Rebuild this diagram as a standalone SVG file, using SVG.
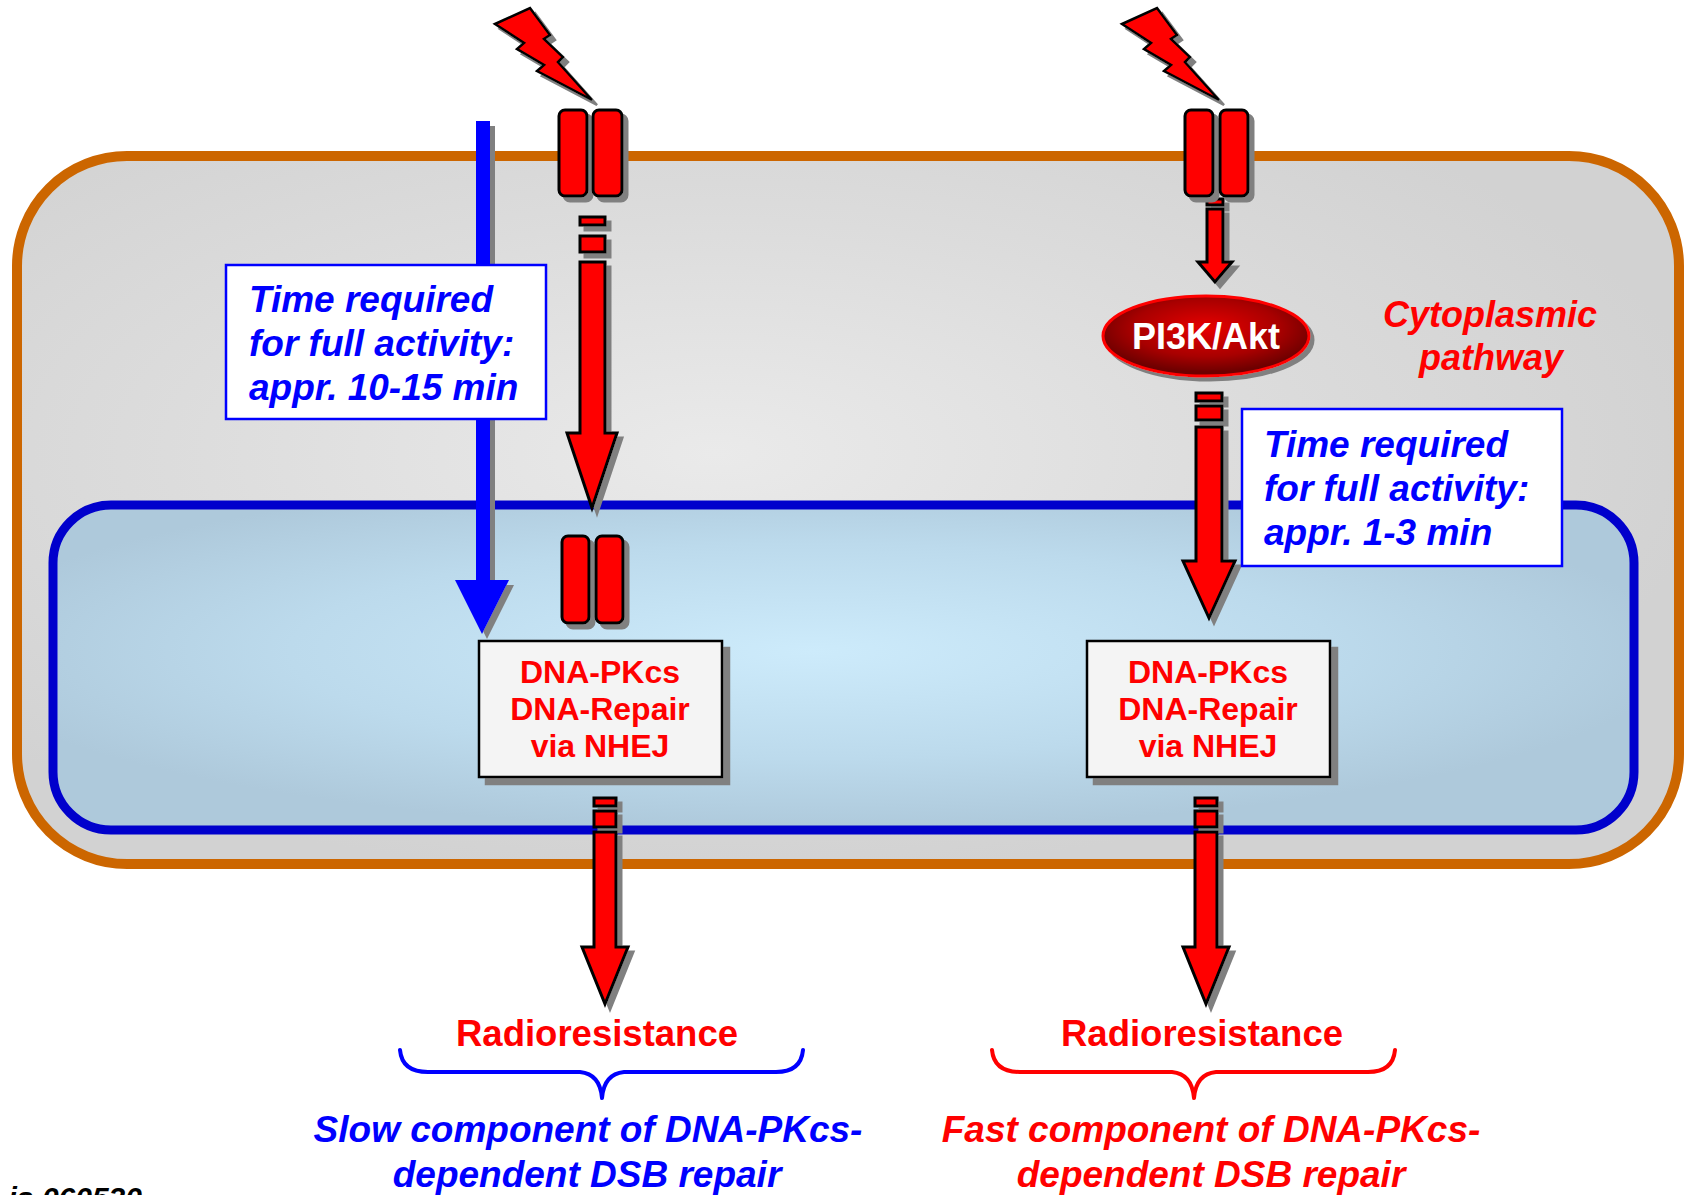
<svg xmlns="http://www.w3.org/2000/svg" width="1684" height="1195" viewBox="0 0 1684 1195">
  <style>
    .red { fill: #FF0000; stroke: #000000; stroke-width: 3; stroke-linejoin: miter; }
    .rcpt { fill: #FF0000; stroke: #000000; stroke-width: 3; }
    .blue-arrow { fill: #0000FF; }
    .timebox { fill: #FFFFFF; stroke: #0000FF; stroke-width: 2.5; }
    .pkbox { fill: #F4F4F4; stroke: #000000; stroke-width: 2.5; }
    .t-time { font-family: "Liberation Sans", Arial, sans-serif; font-weight: bold; font-style: italic; font-size: 37px; fill: #0000FF; }
    .t-pk { font-family: "Liberation Sans", Arial, sans-serif; font-weight: bold; font-size: 32px; fill: #FF0000; text-anchor: middle; }
    .t-rr { font-family: "Liberation Sans", Arial, sans-serif; font-weight: bold; font-size: 36.5px; fill: #FF0000; text-anchor: middle; }
    .t-comp { font-family: "Liberation Sans", Arial, sans-serif; font-weight: bold; font-style: italic; font-size: 37px; text-anchor: middle; }
    .t-cyto { font-family: "Liberation Sans", Arial, sans-serif; font-weight: bold; font-style: italic; font-size: 36px; fill: #FF0000; text-anchor: middle; }
    .brace { fill: none; stroke-width: 4; stroke-linecap: round; stroke-linejoin: round; }
  </style>
  <defs>
    <radialGradient id="cytoFill" cx="0.42" cy="0.42" r="0.6">
      <stop offset="0" stop-color="#EAEAEA"/>
      <stop offset="0.55" stop-color="#DCDCDC"/>
      <stop offset="1" stop-color="#D2D2D2"/>
    </radialGradient>
    <radialGradient id="nucFill" cx="0.48" cy="0.45" r="0.55">
      <stop offset="0" stop-color="#CDEBFB"/>
      <stop offset="0.6" stop-color="#BCDAEC"/>
      <stop offset="1" stop-color="#AEC9DB"/>
    </radialGradient>
    <radialGradient id="pi3kFill" cx="0.5" cy="0.4" r="0.55">
      <stop offset="0" stop-color="#E80000"/>
      <stop offset="0.65" stop-color="#A80000"/>
      <stop offset="1" stop-color="#6E0000"/>
    </radialGradient>
    <filter id="sh5" x="-50%" y="-50%" width="200%" height="200%">
      <feFlood flood-color="#808080"/>
      <feComposite in2="SourceAlpha" operator="in"/>
      <feOffset dx="5" dy="5"/>
      <feMerge><feMergeNode/><feMergeNode in="SourceGraphic"/></feMerge>
    </filter>
    <filter id="sh7" x="-20%" y="-20%" width="140%" height="140%">
      <feFlood flood-color="#808080"/>
      <feComposite in2="SourceAlpha" operator="in"/>
      <feOffset dx="7" dy="7"/>
      <feMerge><feMergeNode/><feMergeNode in="SourceGraphic"/></feMerge>
    </filter>
    <filter id="sh4" x="-20%" y="-20%" width="140%" height="140%">
      <feFlood flood-color="#808080"/>
      <feComposite in2="SourceAlpha" operator="in"/>
      <feOffset dx="4" dy="4"/>
      <feMerge><feMergeNode/><feMergeNode in="SourceGraphic"/></feMerge>
    </filter>
    <polygon id="bolt" points="495,24 530,8 550,35 544,39 563,57 558,62 592,100 537,71 544,65 517,49 524,43"/>
  </defs>

  <!-- cell: cytoplasm and nucleus -->
  <g id="cytoplasm">
    <rect x="17" y="156" width="1662" height="708" rx="110" ry="110" fill="url(#cytoFill)" stroke="#CC6600" stroke-width="10"/>
  </g>
  <g id="nucleus">
    <rect x="53" y="505" width="1581" height="325" rx="58" ry="58" fill="url(#nucFill)" stroke="#0000CC" stroke-width="9"/>
  </g>

  <!-- connectors -->
  <g id="connectors">
    <!-- slow nuclear import (blue) -->
    <path class="blue-arrow" filter="url(#sh5)" d="M476,121 H490 V580 H509 L482,634 L455,580 H476 Z"/>

    <!-- left: receptor to nucleus -->
    <g filter="url(#sh5)">
      <rect class="red" x="580" y="217" width="25" height="8"/>
      <rect class="red" x="580" y="236" width="25" height="16"/>
      <path class="red" d="M580,262 H605 V433 H617 L592,508 L567,433 H580 Z"/>
    </g>

    <!-- left: repair to radioresistance -->
    <g filter="url(#sh5)">
      <rect class="red" x="594" y="798" width="22" height="8"/>
      <rect class="red" x="594" y="811" width="22" height="16"/>
      <path class="red" d="M594,832 H616 V947 H628 L605,1004 L582,947 H594 Z"/>
    </g>

    <!-- right: receptor to PI3K/Akt -->
    <g filter="url(#sh5)">
      <rect class="red" x="1207" y="199" width="16" height="6"/>
      <path class="red" d="M1207,209 H1223 V262 H1232 L1215,282 L1198,262 H1207 Z"/>
    </g>

    <!-- right: PI3K/Akt to nucleus -->
    <g filter="url(#sh5)">
      <rect class="red" x="1196" y="393" width="26" height="8"/>
      <rect class="red" x="1196" y="406" width="26" height="14"/>
      <path class="red" d="M1196,427 H1222 V561 H1235 L1209,618 L1183,561 H1196 Z"/>
    </g>

    <!-- right: repair to radioresistance -->
    <g filter="url(#sh5)">
      <rect class="red" x="1195" y="798" width="22" height="8"/>
      <rect class="red" x="1195" y="811" width="22" height="16"/>
      <path class="red" d="M1195,832 H1217 V947 H1229 L1206,1004 L1183,947 H1195 Z"/>
    </g>

    <!-- braces -->
    <path class="brace" stroke="#0000FF" d="M400,1050 Q402,1072 428,1072 H580 Q600,1074 602,1098 Q604,1074 624,1072 H776 Q801,1072 803,1050"/>
    <path class="brace" stroke="#FF0000" d="M992,1050 Q994,1072 1020,1072 H1172 Q1192,1074 1194,1098 Q1196,1074 1216,1072 H1368 Q1393,1072 1395,1050"/>
  </g>

  <!-- radiation -->
  <g id="bolt-left" filter="url(#sh5)">
    <use href="#bolt" class="red" style="stroke-width:2.5"/>
  </g>
  <g id="bolt-right" filter="url(#sh5)">
    <use href="#bolt" class="red" style="stroke-width:2.5" transform="translate(627 0)"/>
  </g>

  <!-- membrane receptors -->
  <g id="receptor-left" filter="url(#sh5)">
    <rect class="rcpt" x="559" y="110" width="28" height="86" rx="6"/>
    <rect class="rcpt" x="593" y="110" width="29" height="86" rx="6"/>
  </g>
  <g id="receptor-right" filter="url(#sh5)">
    <rect class="rcpt" x="1185" y="110" width="28" height="86" rx="6"/>
    <rect class="rcpt" x="1220" y="110" width="28" height="86" rx="6"/>
  </g>
  <g id="receptor-nuclear" filter="url(#sh5)">
    <rect class="rcpt" x="562" y="536" width="27" height="87" rx="6"/>
    <rect class="rcpt" x="596" y="536" width="27" height="87" rx="6"/>
  </g>

  <!-- time annotations -->
  <g id="time-slow">
    <rect class="timebox" x="226" y="265" width="320" height="154"/>
    <text class="t-time" x="249" y="312">Time required</text>
    <text class="t-time" x="249" y="356">for full activity:</text>
    <text class="t-time" x="249" y="400">appr. 10-15 min</text>
  </g>
  <g id="time-fast">
    <rect class="timebox" x="1242" y="409" width="320" height="157"/>
    <text class="t-time" x="1264" y="457">Time required</text>
    <text class="t-time" x="1264" y="501">for full activity:</text>
    <text class="t-time" x="1264" y="545">appr. 1-3 min</text>
  </g>

  <!-- PI3K/Akt -->
  <g id="pi3k">
    <ellipse cx="1206" cy="336" rx="103" ry="40" fill="url(#pi3kFill)" stroke="#FF0000" stroke-width="3" filter="url(#sh4)"/>
    <text x="1206" y="349" text-anchor="middle" font-family="'Liberation Sans', Arial, sans-serif" font-weight="bold" font-size="36" fill="#FFFFFF">PI3K/Akt</text>
  </g>

  <g id="cyto-label">
    <text class="t-cyto" x="1490" y="327">Cytoplasmic</text>
    <text class="t-cyto" x="1491" y="370">pathway</text>
  </g>

  <!-- DNA-PKcs repair boxes -->
  <g id="repair-left">
    <rect class="pkbox" x="479" y="641" width="243" height="136" filter="url(#sh7)"/>
    <text class="t-pk" x="600" y="683">DNA-PKcs</text>
    <text class="t-pk" x="600" y="720">DNA-Repair</text>
    <text class="t-pk" x="600" y="757">via NHEJ</text>
  </g>
  <g id="repair-right">
    <rect class="pkbox" x="1087" y="641" width="243" height="136" filter="url(#sh7)"/>
    <text class="t-pk" x="1208" y="683">DNA-PKcs</text>
    <text class="t-pk" x="1208" y="720">DNA-Repair</text>
    <text class="t-pk" x="1208" y="757">via NHEJ</text>
  </g>

  <!-- outcomes -->
  <g id="outcome-slow">
    <text class="t-rr" x="597" y="1046">Radioresistance</text>
    <text class="t-comp" x="588" y="1142" fill="#0000FF">Slow component of DNA-PKcs-</text>
    <text class="t-comp" x="587" y="1187" fill="#0000FF">dependent DSB repair</text>
  </g>
  <g id="outcome-fast">
    <text class="t-rr" x="1202" y="1046">Radioresistance</text>
    <text class="t-comp" x="1211" y="1142" fill="#FF0000">Fast component of DNA-PKcs-</text>
    <text class="t-comp" x="1211" y="1187" fill="#FF0000">dependent DSB repair</text>
  </g>

  <text x="142" y="1208" text-anchor="end" font-family="'Liberation Sans', Arial, sans-serif" font-weight="bold" font-style="italic" font-size="30" fill="#000000">is 060520</text>
</svg>
